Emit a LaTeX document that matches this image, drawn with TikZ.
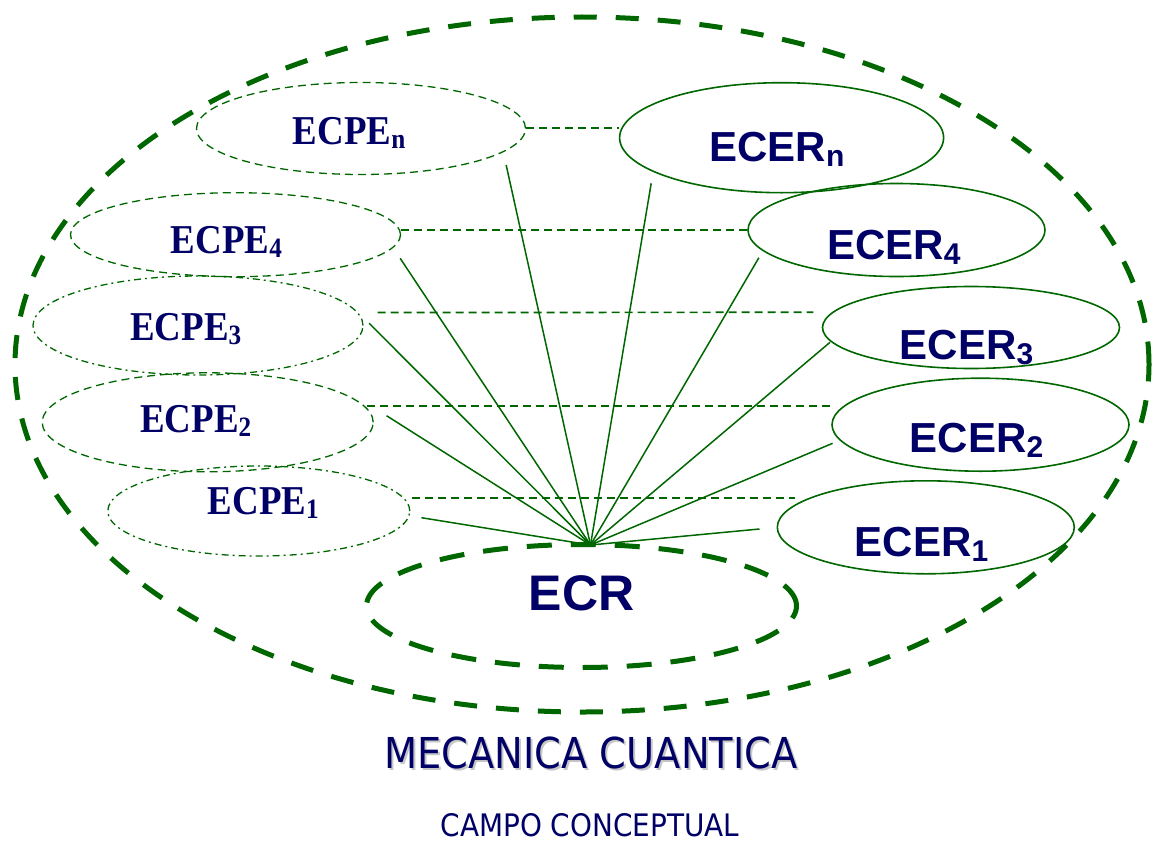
\documentclass[tikz,border=0pt]{standalone}
\usepackage{fontspec}
\usetikzlibrary{shapes.geometric}

\newfontfamily\ecpefont{Liberation Serif}[FakeStretch=0.9]
\newfontfamily\ecerfont{Liberation Sans}
\newfontfamily\campofont{DejaVu Sans}[FakeStretch=0.9]
\definecolor{mcgreen}{RGB}{0,102,0}
\definecolor{mcnavy}{RGB}{0,0,102}
\newcommand\pesub[1]{\raisebox{-4pt}{\fontsize{28}{28}\selectfont #1}}
\newcommand\ersub[1]{\raisebox{-5pt}{\fontsize{30}{30}\selectfont #1}}

\begin{document}
\begin{tikzpicture}[x=1pt,y=-1pt,
    ecpe/.style={ellipse,draw=mcgreen,line width=1.3pt,dash pattern=on 8pt off 5pt,inner sep=0pt},
    ecpedot/.style={ecpe,dash pattern=on 7pt off 4pt on 2pt off 4pt},
    ecer/.style={ellipse,draw=mcgreen,line width=1.6pt,inner sep=0pt},
    bigring/.style={ellipse,draw=mcgreen,line width=5pt,inner sep=0pt},
    pelabel/.style={anchor=base west,inner sep=0pt,text=mcnavy,font={\ecpefont\bfseries\fontsize{41}{41}\selectfont}},
    erlabel/.style={anchor=base west,inner sep=0pt,text=mcnavy,font={\ecerfont\bfseries\fontsize{42}{42}\selectfont}},
    titletext/.style={anchor=base,inner sep=0pt,text depth=0pt,text=mcnavy,font={\campofont\fontsize{42.6}{42.6}\selectfont}},
    spoke/.style={draw=mcgreen,line width=1.5pt},
    link/.style={draw=mcgreen,line width=1.7pt,dash pattern=on 8pt off 5pt}]
    \useasboundingbox (0,0) rectangle (1153,843);

    % campo conceptual y ECR
    \node[bigring,dash pattern=on 23pt off 19pt,minimum width=1134pt,minimum height=695pt] (campo) at (582,364.5) {};
    \node[bigring,dash pattern=on 25pt off 19pt,minimum width=430pt,minimum height=123pt] (ecr) at (581.5,606) {};
    \node[anchor=base,inner sep=0pt,text=mcnavy,font={\ecerfont\bfseries\fontsize{50}{50}\selectfont}] (ecrtext) at (581.5,610) {ECR};
    \coordinate (hub) at (590.5,545);

    % ECPE
    \node[ecpe,minimum width=329pt,minimum height=92pt] (pen) at (361,128.5) {};
    \node[ecpe,minimum width=330pt,minimum height=84pt] (p4) at (235.5,234.7) {};
    \node[ecpedot,minimum width=330pt,minimum height=99pt] (p3) at (198,325.5) {};
    \node[ecpe,minimum width=331pt,minimum height=99pt] (p2) at (207.7,422.3) {};
    \node[ecpedot,minimum width=302pt,minimum height=90pt] (p1) at (258.8,511) {};
    \node[pelabel] (pentext) at (292.7,144) {ECPE\pesub{n}};
    \node[pelabel] (p4text) at (170.7,253) {ECPE\pesub{4}};
    \node[pelabel] (p3text) at (130,340) {ECPE\pesub{3}};
    \node[pelabel] (p2text) at (140,432.7) {ECPE\pesub{2}};
    \node[pelabel] (p1text) at (207.6,514) {ECPE\pesub{1}};

    % ECER
    \node[ecer,minimum width=324pt,minimum height=110pt] (rn) at (781.6,137.7) {};
    \node[ecer,minimum width=297pt,minimum height=93pt] (r4) at (896.5,230) {};
    \node[ecer,minimum width=297pt,minimum height=82pt] (r3) at (971,327.5) {};
    \node[ecer,minimum width=297pt,minimum height=93pt] (r2) at (980.5,424.7) {};
    \node[ecer,minimum width=297pt,minimum height=93pt] (r1) at (925.8,527.3) {};
    \node[erlabel] (rntext) at (709.3,161.7) {ECER\ersub{n}};
    \node[erlabel] (r4text) at (827,259) {ECER\ersub{4}};
    \node[erlabel] (r3text) at (899.7,359.3) {ECER\ersub{3}};
    \node[erlabel] (r2text) at (909.6,452.7) {ECER\ersub{2}};
    \node[erlabel] (r1text) at (854.6,556.7) {ECER\ersub{1}};

    % enlaces ECPE -- ECER
    \draw[link] ([yshift=0.5pt]pen.east) -- ([yshift=0.5pt]pen.east -| rn.west);
    \draw[link] (p4.east |- r4.west) -- (r4.west);
    \draw[link] ([shift={(14,-13)}]p3.east) -- ([shift={(-8.3,-15.2)}]r3.west);
    \draw[link] ([shift={(-7.3,-16.6)}]p2.east) -- ([shift={(-1,-19)}]r2.west);
    \draw[link] ([shift={(1.7,-13.3)}]p1.east) -- ([shift={(18.3,-29.6)}]r1.west);

    \foreach \n/\a/\dx/\dy in {pen/east/-20/36.5,p4/east/-1/23.6,p3/east/5.5/-2.2,p2/east/12.7/-6.6,p1/east/11/6.7,
        rn/west/32.4/45.6,r4/west/11.7/27.7,r3/west/8.3/14.8,r2/west/1.4/18.6,r1/west/-17/1.7}
        \draw[spoke] (hub) -- ([shift={(\dx,\dy)}]\n.\a);

    % titulos
    \node[titletext,text=black!22] (mcshadow) at (593,770) {MECANICA CUANTICA};
    \node[titletext] (mctitle) at (591,768) {MECANICA CUANTICA};
    \node[titletext,font={\campofont\fontsize{31}{31}\selectfont}] (campotext) at (590,836) {CAMPO CONCEPTUAL};
\end{tikzpicture}
\end{document}
